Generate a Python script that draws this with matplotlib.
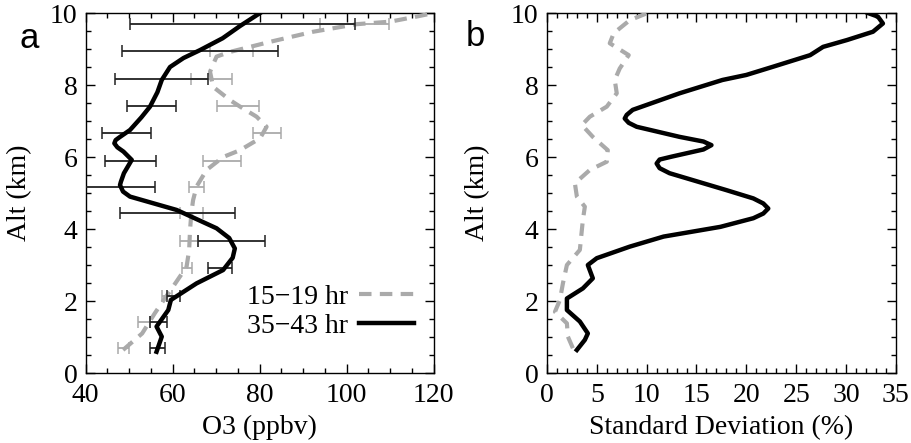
import matplotlib
matplotlib.use("Agg")
import matplotlib.pyplot as plt
from matplotlib.lines import Line2D
from matplotlib.ticker import MultipleLocator

# ---------------- data ----------------
# Panel a: O3 profiles (ppbv) vs altitude (km)
alt_a_late = [0.59, 1.01, 1.29, 1.75, 2.03, 2.49, 2.86, 3.2, 3.46, 3.75, 4.02, 4.53,
              4.9, 5.04, 5.22, 5.31, 5.55, 5.92, 6.15, 6.27, 6.38, 6.47, 6.55, 6.75,
              7.1, 7.4, 7.8, 8.14, 8.5, 8.75, 8.97, 9.3, 9.64, 10.0]
o3_late = [56.3, 57.5, 56.3, 59.0, 59.6, 65.5, 71.6, 73.8, 74.3, 73.0, 70.1, 60.9,
           50.2, 48.6, 47.9, 48.1, 48.8, 50.6, 48.7, 47.3, 46.6, 46.9, 47.8, 50.2,
           52.8, 54.8, 56.5, 57.5, 59.4, 62.5, 66.3, 71.5, 75.5, 80.1]

alt_a_early = [0.64, 1.1, 1.66, 2.14, 2.4, 2.95, 3.42, 3.97, 4.44, 4.8, 5.18, 5.64,
               6.0, 6.19, 6.52, 6.84, 7.12, 7.4, 7.58, 7.95, 8.37, 8.79, 8.92, 9.2,
               9.48, 9.69, 9.76, 9.9, 10.0]
o3_early = [48.6, 53.0, 55.9, 58.6, 60.1, 63.2, 63.8, 64.0, 64.3, 64.7, 65.5, 67.8,
            71.6, 75.5, 80.1, 81.6, 79.3, 75.5, 73.2, 69.3, 68.6, 70.1, 73.2, 82.4,
            92.3, 102.3, 110.0, 116.0, 120.0]

# error bars (altitude, centre, half-width)
err_alt = [0.69, 1.41, 2.14, 2.91, 3.67, 4.44, 5.18, 5.89, 6.66, 7.42, 8.18, 8.94, 9.69]
err_late_c = [56.6, 56.8, 60.3, 70.9, 73.5, 61.1, 47.9, 50.4, 49.4, 55.1, 57.5, 66.3, 76.1]
err_late_w = [1.75, 2.0, 1.5, 2.85, 7.75, 13.2, 8.0, 5.85, 5.55, 5.7, 10.65, 18.0, 25.8]
err_early_c = [48.7, 53.5, 58.6, 63.3, 63.8, 64.3, 65.5, 71.3, 81.7, 75.1, 68.9, 73.5, 101.9]
err_early_w = [1.3, 1.35, 1.15, 1.1, 2.1, 2.6, 1.8, 4.4, 3.15, 4.8, 4.7, 5.0, 7.95]

# Panel b: standard deviation (%) vs altitude (km)
alt_b_late = [0.64, 0.92, 1.1, 1.43, 1.75, 2.07, 2.35, 2.63, 3.0, 3.19, 3.51, 3.79,
              4.06, 4.3, 4.43, 4.57, 4.71, 4.85, 5.08, 5.55, 5.69, 5.82, 5.93, 6.01,
              6.21, 6.33, 6.43, 6.56, 6.84, 6.95, 7.07, 7.17, 7.31, 7.77, 8.14, 8.28,
              8.51, 8.83, 9.06, 9.25, 9.48, 9.71, 9.9, 10.0]
sd_late = [3.0, 3.8, 4.1, 3.3, 2.0, 2.0, 3.6, 4.6, 4.1, 5.0, 8.3, 11.7,
           17.4, 20.7, 21.7, 22.2, 21.7, 20.7, 18.0, 12.3, 11.3, 11.0, 11.3, 12.5,
           15.7, 16.5, 15.7, 13.3, 9.0, 8.2, 7.8, 8.0, 8.6, 13.3, 17.6, 20.0,
           22.7, 26.4, 27.7, 30.1, 32.7, 33.7, 33.2, 32.2]

alt_b_early = [0.69, 1.01, 1.38, 1.7, 2.03, 2.49, 3.0, 3.42, 4.25, 4.62, 4.9, 5.27,
               5.64, 5.87, 6.19, 6.56, 6.89, 7.12, 7.4, 7.77, 8.14, 8.46, 8.83, 9.16,
               9.44, 9.8, 9.99]
sd_early = [2.6, 2.1, 2.0, 0.8, 1.3, 1.6, 2.0, 3.3, 3.6, 3.8, 3.0, 2.8,
            4.3, 6.0, 6.1, 4.6, 3.5, 4.3, 6.0, 7.0, 6.8, 7.3, 8.2, 6.3,
            6.7, 8.3, 10.0]

labels = ["15\u221219 hr", "35\u221243 hr"]
xlabels = ["O3 (ppbv)", "Standard Deviation (%)"]
ylabel = "Alt (km)"
panel_tags = ["a", "b"]

# ---------------- style ----------------
SERIF = ["Liberation Serif", "DejaVu Serif"]
plt.rcParams["font.family"] = SERIF
FS = 20
GRAY = "#aaaaaa"
DASH = (0, (3, 2))

fig = plt.figure(figsize=(9.11, 4.43), dpi=100)
axa = fig.add_axes([0.094, 0.158, 0.382, 0.8126])
axb = fig.add_axes([0.6004, 0.158, 0.383, 0.8126])

# panel a
axa.errorbar(err_early_c, err_alt, xerr=err_early_w, fmt="none", ecolor=GRAY,
             elinewidth=1.3, capsize=4.5, capthick=1.1, zorder=2)
axa.plot(o3_early, alt_a_early, color=GRAY, lw=3, linestyle=DASH, zorder=3)
axa.errorbar(err_late_c, err_alt, xerr=err_late_w, fmt="none", ecolor="#222222",
             elinewidth=1.3, capsize=4.5, capthick=1.1, zorder=4)
axa.plot(o3_late, alt_a_late, color="black", lw=3.2, zorder=5,
         solid_joinstyle="round")
axa.set_xlim(40, 120)
axa.set_ylim(0, 10)
axa.xaxis.set_major_locator(MultipleLocator(20))
axa.xaxis.set_minor_locator(MultipleLocator(5))

handles = [Line2D([], [], color=GRAY, lw=3, linestyle=DASH),
           Line2D([], [], color="black", lw=3.2)]
leg = axa.legend(handles, labels, loc="lower right", bbox_to_anchor=(0.945, 0.095),
                 frameon=False, markerfirst=False, handlelength=2.0,
                 handletextpad=0.4, labelspacing=0.12, borderpad=0,
                 borderaxespad=0, prop={"family": SERIF, "size": FS})

# panel b
axb.plot(sd_early, alt_b_early, color=GRAY, lw=3, linestyle=DASH, zorder=3)
axb.plot(sd_late, alt_b_late, color="black", lw=3.2, zorder=4,
         solid_joinstyle="round")
axb.set_xlim(0, 35)
axb.set_ylim(0, 10)
axb.xaxis.set_major_locator(MultipleLocator(5))
axb.xaxis.set_minor_locator(MultipleLocator(1))

for ax, xl, ylx in zip([axa, axb], xlabels, [-0.153, -0.162]):
    ax.yaxis.set_major_locator(MultipleLocator(2))
    ax.yaxis.set_minor_locator(MultipleLocator(0.5))
    ax.tick_params(which="both", direction="in", top=True, right=True,
                   labelsize=FS, width=1.0)
    ax.tick_params(which="major", length=6.5)
    ax.tick_params(which="minor", length=3.5)
    ax.tick_params(axis="x", pad=7)
    ax.tick_params(axis="y", pad=6)
    for s in ax.spines.values():
        s.set_linewidth(1.0)
    ax.set_xlabel(xl, fontsize=FS, labelpad=5)
    ax.set_ylabel(ylabel, fontsize=FS)
    ax.yaxis.set_label_coords(ylx, 0.5)

fig.text(29 / 911, 1 - 39 / 443, panel_tags[0], fontsize=25,
         family="Liberation Sans", ha="center", va="center")
fig.text(475 / 911, 1 - 36 / 443, panel_tags[1], fontsize=25,
         family="Liberation Sans", ha="center", va="center")

fig.savefig("out.png", dpi=100)
